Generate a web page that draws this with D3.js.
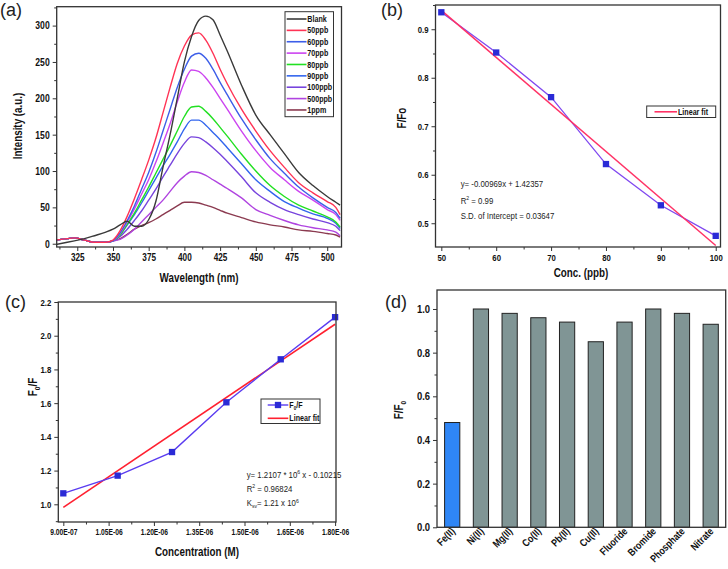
<!DOCTYPE html>
<html><head><meta charset="utf-8">
<script src="https://cdn.jsdelivr.net/npm/d3@7"></script>
<style>body{margin:0;background:#fff} svg{display:block}</style>
</head><body><svg id="c" width="728" height="569"></svg>
<script>
// ---------- Panel (a): emission spectra ----------
const wavelengths = [310,318,323,330,337,345,350,355,360,365,370,375,380,385,390,395,400,405,410,415,420,425,430,440,450,460,470,480,490,500,506,509];
const spectraNames = ["Blank","50ppb","60ppb","70ppb","80ppb","90ppb","100ppb","500ppb","1ppm"];
const spectraColors = ["#3a3a3a","#ff3355","#3d5ee8","#cc44f0","#22e022","#3366ee","#7744dd","#b044e0","#8b3a50"];
const blank  = [-1,2,4,7,11,16,20,26,31,24,24,33,58,105,150,200,250,285,307,313,308,287,265,218,177,150,124,98,80,65,57,53];
const ppb50  = [5,7,8,5,2,2,5,18,38,62,88,115,145,180,215,248,272,287,290,280,262,240,220,185,155,128,105,84,70,58,50,40];
const ppb60  = [5,7,8,5,2,2,4,15,32,52,75,98,125,155,185,215,240,258,262,255,240,222,205,172,143,117,97,78,63,50,43,35];
const ppb70  = [5,7,8,5,2,2,4,14,30,48,68,88,112,138,165,195,222,239,237,228,215,200,185,155,128,105,88,72,60,47,40,32];
const ppb80  = [5,7,8,5,2,2,4,12,27,42,60,78,97,116,135,155,175,188,189,182,172,160,148,123,100,80,65,53,45,37,30,23];
const ppb90  = [5,7,8,5,2,2,4,12,26,40,56,73,90,107,123,140,158,170,170,163,153,143,132,110,88,72,58,49,41,35,28,21];
const ppb100 = [5,7,8,5,2,2,4,10,20,32,45,60,75,92,108,124,138,147,146,140,132,123,113,92,70,57,47,40,34,29,24,18];
const ppb500 = [5,7,8,5,2,2,4,6,12,20,30,40,50,60,72,84,93,99,98,94,88,82,76,63,47,39,32,26,22,19,16,11];
const ppm1   = [5,7,8,5,2,2,4,7,13,20,25,29,34,40,46,52,57,57,56,53,50,46,42,36,30,26,23,19,17,14,12,9];
const spectra = [blank,ppb50,ppb60,ppb70,ppb80,ppb90,ppb100,ppb500,ppm1];
const aXTicks = [325,350,375,400,425,450,475,500];
const aYTicks = [0,50,100,150,200,250,300];

// ---------- Panel (b): F/Fo vs conc ----------
const bConc = [50,60,70,80,90,100];
const bRatio = [0.935,0.852,0.760,0.622,0.537,0.474];
const bFitX = [50,100];
const bFitY = [0.939,0.454];
const bXTicks = [50,60,70,80,90,100];
const bYTicks = [0.5,0.6,0.7,0.8,0.9];

// ---------- Panel (c): Stern-Volmer ----------
const cConc = [9.0e-7,1.08e-6,1.26e-6,1.44e-6,1.62e-6,1.8e-6];
const cRatio = [1.065,1.170,1.310,1.605,1.860,2.110];
const cFitX = [9.0e-7,1.8e-6];
const cFitY = [0.982,2.068];
const cXTicks = [9.0e-7,1.05e-6,1.2e-6,1.35e-6,1.5e-6,1.65e-6,1.8e-6];
const cXTickLabels = ["9.00E-07","1.05E-06","1.20E-06","1.35E-06","1.50E-06","1.65E-06","1.80E-06"];
const cYTicks = [1.0,1.2,1.4,1.6,1.8,2.0,2.2];

// ---------- Panel (d): selectivity ----------
const dIons = ["Fe(II)","Ni(II)","Mg(II)","Co(II)","Pb(II)","Cu(II)","Fluoride","Bromide","Phosphate","Nitrate"];
const dRatio = [0.48,1.00,0.98,0.96,0.94,0.85,0.94,1.00,0.98,0.93];
const dYTicks = [0,0.2,0.4,0.6,0.8,1.0];

const FONT = "'Liberation Sans',Arial,sans-serif";
const svg = d3.select("#c");

// squeeze a text horizontally (Arial Narrow look) around its anchor point
function narrow(sel,k,rot){
  sel.each(function(){
    const s = d3.select(this);
    const x = +s.attr("x")||0, y = +s.attr("y")||0;
    s.attr("x",0).attr("y",0).attr("transform",`translate(${x},${y}) rotate(${rot||0}) scale(${k},1)`);
  });
}
function frame(P){
  svg.append("rect").attr("x",P.x0).attr("y",P.y0).attr("width",P.x1-P.x0).attr("height",P.y1-P.y0)
    .attr("fill","none").attr("stroke","#333").attr("stroke-width",1.3);
}
function styleAxis(g,fs,k){
  g.select(".domain").remove();
  g.selectAll(".tick line").attr("stroke","#333").attr("stroke-width",1);
  const t = g.selectAll(".tick text").attr("font-family",FONT).attr("font-weight","bold").attr("font-size",fs).attr("fill","#111");
  narrow(t,k);
}
function xAxis(P,x,ticks,minor,fmt,fs,k){
  const g = svg.append("g").attr("transform",`translate(0,${P.y1})`)
    .call(d3.axisBottom(x).tickValues(ticks).tickFormat(fmt).tickSize(4).tickPadding(3));
  styleAxis(g,fs,k);
  if(minor){
    const m = svg.append("g").attr("transform",`translate(0,${P.y1})`)
      .call(d3.axisBottom(x).tickValues(minor).tickFormat("").tickSize(2.5));
    styleAxis(m,fs,k);
  }
}
function yAxis(P,y,ticks,minor,fmt,fs,k){
  const g = svg.append("g").attr("transform",`translate(${P.x0},0)`)
    .call(d3.axisLeft(y).tickValues(ticks).tickFormat(fmt).tickSize(4).tickPadding(3));
  styleAxis(g,fs,k);
  if(minor){
    const m = svg.append("g").attr("transform",`translate(${P.x0},0)`)
      .call(d3.axisLeft(y).tickValues(minor).tickFormat("").tickSize(2.5));
    styleAxis(m,fs,k);
  }
}
function title(parts,x,y,rot,fs){
  const t = svg.append("text").attr("x",x).attr("y",y).attr("text-anchor","middle")
    .attr("font-family",FONT).attr("font-weight","bold").attr("font-size",fs||12).attr("fill","#111")
    .attr("dy","0.35em");
  if(typeof parts==="string") parts=[[parts]];
  parts.forEach(p=>{
    const s = t.append("tspan").text(p[0]);
    if(p[1]==="sub") s.attr("font-size",(fs||12)*0.65).attr("dy",3);
    if(p[1]==="back") s.attr("dy",-3);
  });
  narrow(t,0.82,rot?-90:0);
  return t;
}
function panelLabel(txt,x,y){
  svg.append("text").attr("x",x).attr("y",y).attr("font-family",FONT).attr("font-size",18).attr("fill","#222").text(txt);
}
function note(parts,x,y,fs){
  const t = svg.append("text").attr("x",x).attr("y",y).attr("font-family",FONT).attr("font-size",fs||8.4).attr("fill","#222");
  parts.forEach(p=>{
    const s = t.append("tspan").text(p[0]);
    if(p[1]==="sup") s.attr("font-size",5.5).attr("dy",-3.5);
    if(p[1]==="sub") s.attr("font-size",5.5).attr("dy",2);
    if(p[1]==="back") s.attr("dy",3.5);
    if(p[1]==="backs") s.attr("dy",-2);
  });
  narrow(t,0.93);
}
function legendText(parts,x,y,bold){
  const t = svg.append("text").attr("x",x).attr("y",y).attr("dy","0.35em")
    .attr("font-family",FONT).attr("font-weight",bold?"bold":"normal").attr("font-size",8.7).attr("fill","#111");
  parts.forEach(p=>{
    const s = t.append("tspan").text(p[0]);
    if(p[1]==="sub") s.attr("font-size",5.5).attr("dy",2);
    if(p[1]==="back") s.attr("dy",-2);
  });
  narrow(t,0.82);
}
const range = (a,b,s)=>d3.range(a,b+s/2,s);

// ================= (a) =================
const A = {x0:56.7,x1:341.5,y0:6.7,y1:247};
const xa = d3.scaleLinear().domain([310.6,510]).range([A.x0,A.x1]);
const ya = d3.scaleLinear().domain([-4.5,326]).range([A.y1,A.y0]);
svg.append("clipPath").attr("id","clipA").append("rect")
  .attr("x",A.x0).attr("y",A.y0).attr("width",A.x1-A.x0).attr("height",A.y1-A.y0);
const lineA = d3.line().x((d,i)=>xa(wavelengths[i])).y(d=>ya(d)).curve(d3.curveMonotoneX);
const gA = svg.append("g").attr("clip-path","url(#clipA)");
spectra.slice().reverse().forEach((s,ri)=>{
  const i = spectra.length-1-ri;
  gA.append("path").attr("d",lineA(s)).attr("fill","none").attr("stroke",spectraColors[i]).attr("stroke-width",1.4);
});
frame(A);
xAxis(A,xa,aXTicks,range(312.5,500,25).filter(v=>!aXTicks.includes(v)),d3.format("d"),10,0.82);
yAxis(A,ya,aYTicks,range(25,325,50),d3.format("d"),10.5,0.82);
title("Wavelength (nm)",199,278);
title("Intensity (a.u.)",18,126,true);
panelLabel("(a)",0,16);
svg.append("rect").attr("x",285).attr("y",11.7).attr("width",48.5).attr("height",105)
  .attr("fill","#fff").attr("stroke","#333").attr("stroke-width",1);
spectraNames.forEach((n,i)=>{
  const yy = 19 + i*11.37;
  svg.append("line").attr("x1",286.7).attr("x2",306.5).attr("y1",yy).attr("y2",yy)
    .attr("stroke",spectraColors[i]).attr("stroke-width",1.6);
  legendText([[n]],307.3,yy,true);
});

// ================= (b) =================
const B = {x0:435.5,x1:720.5,y0:5,y1:247};
const xb = d3.scaleLinear().domain([48.94,100.87]).range([B.x0,B.x1]);
const yb = d3.scaleLinear().domain([0.451,0.95]).range([B.y1,B.y0]);
svg.append("path").attr("d",d3.line().x((d,i)=>xb(bConc[i])).y(d=>yb(d))(bRatio))
  .attr("fill","none").attr("stroke","#8048f0").attr("stroke-width",1.3);
svg.append("path").attr("d",d3.line().x((d,i)=>xb(bFitX[i])).y(d=>yb(d))(bFitY))
  .attr("fill","none").attr("stroke","#ff3366").attr("stroke-width",1.5);
const sq = d3.symbol().type(d3.symbolSquare).size(40);
bRatio.forEach((v,i)=>{
  svg.append("path").attr("d",sq()).attr("transform",`translate(${xb(bConc[i])},${yb(v)})`).attr("fill","#2a2ad6");
});
frame(B);
xAxis(B,xb,bXTicks,range(55,95,10),d3.format("d"),9.5,0.82);
yAxis(B,yb,bYTicks,range(0.55,0.95,0.1),d3.format(".1f"),9.5,0.82);
title("Conc. (ppb)",581,273);
title("F/Fo",402,118,true);
panelLabel("(b)",381,16);
svg.append("rect").attr("x",646.7).attr("y",106).attr("width",69).attr("height",11.5)
  .attr("fill","#fff").attr("stroke","#333").attr("stroke-width",1);
svg.append("line").attr("x1",654.5).attr("x2",677).attr("y1",111.8).attr("y2",111.8).attr("stroke","#ff3366").attr("stroke-width",1.6);
legendText([["Linear fit"]],678,111.8,true);
note([["y= -0.00969x + 1.42357"]],460.7,187);
note([["R"],["2","sup"],[" = 0.99","back"]],460.7,203.5);
note([["S.D. of Intercept = 0.03647"]],460.7,219);

// ================= (c) =================
const C = {x0:58.3,x1:336,y0:302,y1:522};
const xc = d3.scaleLinear().domain([8.834e-7,1.803e-6]).range([C.x0,C.x1]);
const yc = d3.scaleLinear().domain([0.895,2.2]).range([C.y1,C.y0]);
svg.append("path").attr("d",d3.line().x((d,i)=>xc(cFitX[i])).y(d=>yc(d))(cFitY))
  .attr("fill","none").attr("stroke","#ff2030").attr("stroke-width",1.6);
svg.append("path").attr("d",d3.line().x((d,i)=>xc(cConc[i])).y(d=>yc(d))(cRatio))
  .attr("fill","none").attr("stroke","#5a3cf0").attr("stroke-width",1.4);
cRatio.forEach((v,i)=>{
  svg.append("path").attr("d",sq()).attr("transform",`translate(${xc(cConc[i])},${yc(v)})`).attr("fill","#2a2ad6");
});
frame(C);
xAxis(C,xc,cXTicks,cXTicks.slice(0,-1).map(v=>v+0.75e-7),(d,i)=>cXTickLabels[i],8.6,0.78);
yAxis(C,yc,cYTicks,range(0.9,2.1,0.2),d3.format(".1f"),9.5,0.82);
title("Concentration (M)",197,552);
title([["F"],["0","sub"],["/F","back"]],33,387,true);
panelLabel("(c)",5,308);
svg.append("rect").attr("x",261).attr("y",399).attr("width",59).attr("height",24.5)
  .attr("fill","#fff").attr("stroke","#333").attr("stroke-width",1);
svg.append("line").attr("x1",267.7).attr("x2",288.3).attr("y1",405).attr("y2",405).attr("stroke","#5a3cf0").attr("stroke-width",1.4);
svg.append("path").attr("d",sq()).attr("transform","translate(278,405)").attr("fill","#2a2ad6");
legendText([["F"],["0","sub"],["/F","back"]],289.3,405,true);
svg.append("line").attr("x1",267.7).attr("x2",288.3).attr("y1",418.3).attr("y2",418.3).attr("stroke","#ff2030").attr("stroke-width",1.6);
legendText([["Linear fit"]],289.3,418.3,true);
note([["y= 1.2107 * 10"],["6","sup"],[" x - 0.10215","back"]],246.7,477.5);
note([["R"],["2","sup"],[" = 0.96824","back"]],246.7,491.5);
note([["K"],["sv","sub"],["= 1.21 x 10","backs"],["6","sup"]],246.7,506);

// ================= (d) =================
const D = {x0:437,x1:725.7,y0:290,y1:527.3};
const xd = d3.scalePoint().domain(dIons).range([452.2,710.7]);
const yd = d3.scaleLinear().domain([0,1.087]).range([D.y1,D.y0]);
const bw = xd.step()*0.53;
dIons.forEach((n,i)=>{
  svg.append("rect").attr("x",xd(n)-bw/2).attr("y",yd(dRatio[i])).attr("width",bw).attr("height",yd(0)-yd(dRatio[i]))
    .attr("fill",i===0?"#2f86f6":"#809595").attr("stroke","#222").attr("stroke-width",1);
  const t = svg.append("text").attr("x",xd(n)+3.5).attr("y",532).attr("text-anchor","end")
    .attr("font-family",FONT).attr("font-weight","bold").attr("font-size",10.5).attr("fill","#111").text(n);
  narrow(t,0.82,-45);
});
frame(D);
yAxis(D,yd,dYTicks,range(0.1,0.9,0.2),d3.format(".1f"),10.5,0.9);
title([["F/F"],["0","sub"]],399,410,true);
panelLabel("(d)",385,308);
</script></body></html>
